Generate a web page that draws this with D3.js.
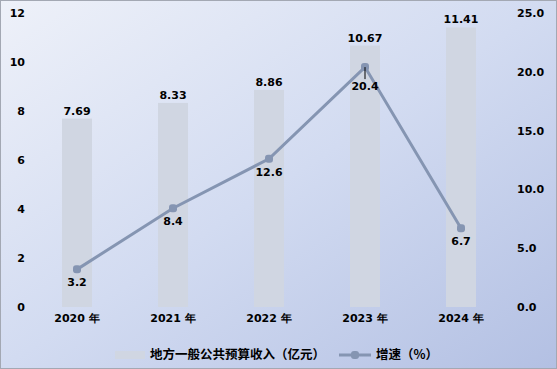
<!DOCTYPE html>
<html><head><meta charset="utf-8">
<script src="https://cdn.jsdelivr.net/npm/d3@7"></script>
<style>body{margin:0;padding:0;background:#fff}svg{display:block}</style>
</head><body>
<svg id="c" width="557" height="369"></svg>
<script>
const categories = ["2020 年","2021 年","2022 年","2023 年","2024 年"];
const revenue = [7.69, 8.33, 8.86, 10.67, 11.41];
const growth = [3.2, 8.4, 12.6, 20.4, 6.7];
const leftTicks = [0,2,4,6,8,10,12];
const rightTicks = [0,5,10,15,20,25];
const barName = "地方一般公共预算收入（亿元）";
const lineName = "增速（%）";

const W=557,H=369;
const svg=d3.select("#c");
const defs=svg.append("defs");
const g=defs.append("linearGradient").attr("id","bg").attr("x1","0").attr("y1","0").attr("x2","1").attr("y2","1");
g.append("stop").attr("offset","0%").attr("stop-color","#eef1f9");
g.append("stop").attr("offset","50%").attr("stop-color","#d2dbf1");
g.append("stop").attr("offset","100%").attr("stop-color","#b3c0e3");
svg.append("rect").attr("x",0.5).attr("y",0.5).attr("width",W-1).attr("height",H-1).attr("fill","url(#bg)").attr("stroke","#a3a8b3");

const font="'DejaVu Sans', sans-serif";
const x=d3.scaleBand().domain(categories).range([29,509]).paddingInner(0.6875).paddingOuter(0.34375);
const yL=d3.scaleLinear().domain([0,12]).range([307,13]);
const yR=d3.scaleLinear().domain([0,25]).range([307,13]);

// bars
svg.selectAll(".bar").data(revenue).join("rect")
 .attr("x",(d,i)=>x(categories[i])).attr("width",x.bandwidth())
 .attr("y",d=>yL(d)).attr("height",d=>yL(0)-yL(d)).attr("fill","#d0d6e2");
svg.selectAll(".blab").data(revenue).join("text")
 .attr("x",(d,i)=>x(categories[i])+x.bandwidth()/2).attr("y",d=>yL(d)-4)
 .attr("text-anchor","middle").attr("font-family",font).attr("font-weight","bold").attr("font-size",11).attr("fill","#000")
 .text(d=>d.toFixed(2));

// axes
const axL=svg.append("g").attr("transform","translate(25,0)").call(d3.axisLeft(yL).tickValues(leftTicks).tickSize(0).tickPadding(0));
const axR=svg.append("g").attr("transform","translate(517,0)").call(d3.axisRight(yR).tickValues(rightTicks).tickFormat(d3.format(".1f")).tickSize(0).tickPadding(0));
const axB=svg.append("g").attr("transform","translate(0,314)").call(d3.axisBottom(x).tickSize(0).tickPadding(0));
[axL,axR,axB].forEach(a=>{a.select(".domain").remove();a.selectAll("text").attr("font-family",font).attr("font-weight","bold").attr("font-size",11).attr("fill","#000");});
axB.selectAll("text").attr("dy","0.75em");

// line
const cx=i=>x(categories[i])+x.bandwidth()/2;
const line=d3.line().x((d,i)=>cx(i)).y(d=>yR(d));
svg.append("path").datum(growth).attr("d",line).attr("fill","none").attr("stroke","#8595b2").attr("stroke-width",3);
svg.selectAll(".pt").data(growth).join("rect")
 .attr("x",(d,i)=>cx(i)-4).attr("y",d=>yR(d)-4).attr("width",8).attr("height",8).attr("rx",3)
 .attr("fill","#8595b2");
// leader for 20.4
svg.append("line").attr("x1",cx(3)).attr("x2",cx(3)).attr("y1",yR(growth[3])).attr("y2",yR(growth[3])+12).attr("stroke","#000").attr("stroke-width",1);
svg.selectAll(".llab").data(growth).join("text")
 .attr("x",(d,i)=>cx(i)).attr("y",(d,i)=>yR(d)+(i===3?23:17))
 .attr("text-anchor","middle").attr("font-family",font).attr("font-weight","bold").attr("font-size",11).attr("fill","#000")
 .text(d=>d.toFixed(1));

// legend
const ly=355;
svg.append("rect").attr("x",115).attr("y",ly-4).attr("width",30).attr("height",8).attr("fill","#d0d6e2");
svg.append("text").attr("x",150).attr("y",ly).attr("dy","0.35em").attr("font-family","'Noto Sans CJK SC', sans-serif").attr("font-weight","bold").attr("font-size",12.5).attr("fill","#000").text(barName);
svg.append("line").attr("x1",339).attr("x2",371).attr("y1",ly).attr("y2",ly).attr("stroke","#8595b2").attr("stroke-width",3);
svg.append("rect").attr("x",351).attr("y",ly-4).attr("width",8).attr("height",8).attr("rx",3).attr("fill","#8595b2");
svg.append("text").attr("x",376).attr("y",ly).attr("dy","0.35em").attr("font-family","'Noto Sans CJK SC', sans-serif").attr("font-weight","bold").attr("font-size",12.5).attr("fill","#000").text(lineName);
</script>
</body></html>
